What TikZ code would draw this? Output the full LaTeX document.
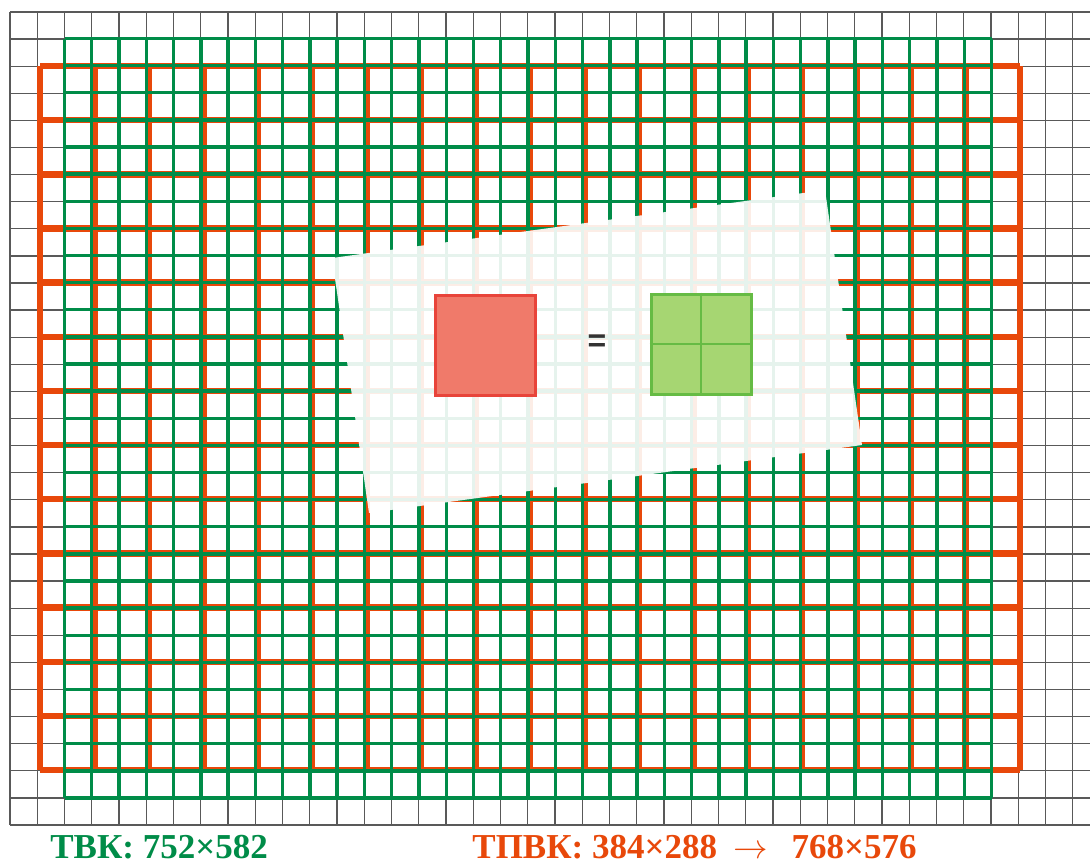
\documentclass[tikz,border=0pt]{standalone}
\usepackage{fontspec}
\setmainfont{Liberation Serif}
\newfontfamily\eqfont{Liberation Sans}
\usepackage{tikz}
\definecolor{tvkgreen}{RGB}{0,140,72}
\definecolor{tpvkorange}{RGB}{232,72,10}
\definecolor{pixred}{RGB}{240,122,106}
\definecolor{pixredline}{RGB}{232,68,58}
\definecolor{pixgreen}{RGB}{166,214,114}
\definecolor{pixgreenline}{RGB}{102,187,68}
\tikzset{basegrid/.style={draw=black!65, line width=0.65pt},
  tpvkline/.style={draw=tpvkorange, line width=3.2pt},
  tvkline/.style={draw=tvkgreen, line width=1.7pt},
  redpix/.style={draw=pixredline, fill=pixred, line width=1.5pt, minimum size=50pt, inner sep=0},
  greenpix/.style={draw=pixgreenline, fill=pixgreen, line width=1.5pt, minimum size=50pt, inner sep=0},
  caption/.style={anchor=base west, inner sep=0, font=\bfseries\fontsize{17.5}{20}\selectfont}}

\begin{document}
\begin{tikzpicture}[x=0.5pt,y=-0.5pt]
\useasboundingbox (0,0) rectangle (1090,863);
% fine background grid
\foreach \i in {0,...,39} \draw[basegrid] ({10+27.25*\i},12) -- ({10+27.25*\i},825);
\foreach \j in {0,...,30} \draw[basegrid] (10,{12+27.1*\j}) -- (1090,{12+27.1*\j});
% TPVK grid 18 x 13
\foreach \i in {0,...,18} \draw[tpvkline] ({40+980/18*\i},66) -- ({40+980/18*\i},770);
\foreach \j in {0,...,13} \draw[tpvkline] (40,{66+704/13*\j}) -- (1020,{66+704/13*\j});
% TVK grid 34 x 28
\foreach \i in {0,...,34} \draw[tvkline] ({64.5+927/34*\i},38.5) -- ({64.5+927/34*\i},798);
\foreach \j in {0,...,28} \draw[tvkline] (64.5,{38.5+759.5/28*\j}) -- (991.5,{38.5+759.5/28*\j});
% tilted white sheet
\fill[white, opacity=0.9] (332,258) -- (825,190) -- (862,445) -- (369,513) -- cycle;
\node[redpix] (bigpix) at (485,345) {};
\node[text=black!80, font=\eqfont\bfseries\fontsize{16}{16}\selectfont] (eq) at (597,343) {=};
\node[greenpix] (smallpix) at (701,344) {};
\draw[pixgreenline, line width=1pt] (smallpix.north) -- (smallpix.south);
\draw[pixgreenline, line width=1pt] (smallpix.west) -- (smallpix.east);
% captions
\node[caption, text=tvkgreen] (tvk) at (50,858) {ТВК: 752×582};
\node[caption, text=tpvkorange] (tpvk) at (472,858) {ТПВК: 384×288\hspace{8pt}$\rightarrow$\hspace{12pt}768×576};
\end{tikzpicture}
\end{document}
